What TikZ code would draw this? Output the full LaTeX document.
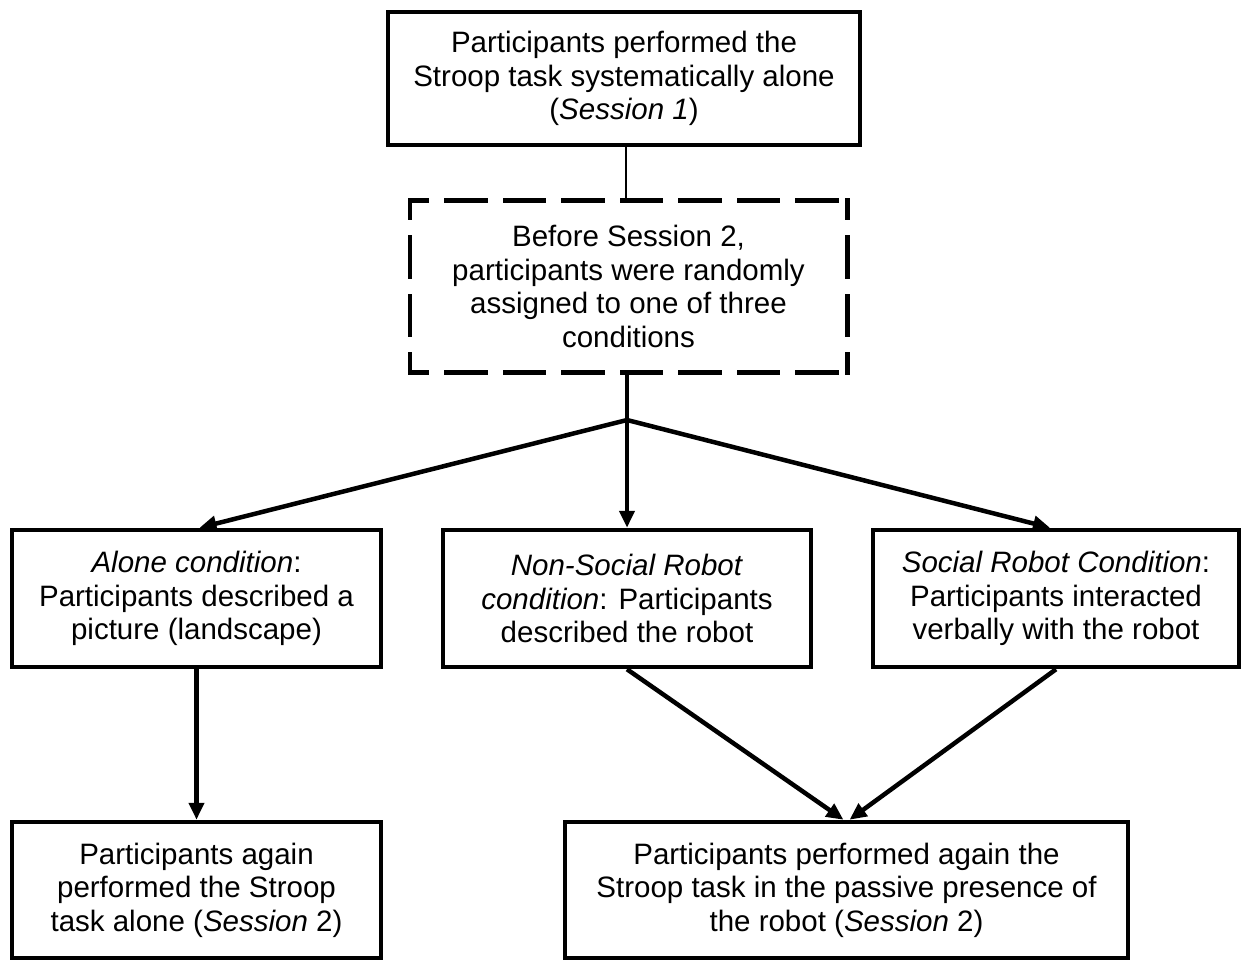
\documentclass[tikz,border=0pt]{standalone}
\usepackage{fontspec}
\setmainfont{Liberation Sans}
\usetikzlibrary{arrows.meta}
\begin{document}
\begin{tikzpicture}[x=1pt,y=-1pt,
  box/.style={draw, line width=4.5pt, rectangle, inner sep=0pt, align=center,
    font=\fontsize{29.5}{33.5}\selectfont},
  dbox/.style={box, draw=none},
  dside/.style={line width=4.5pt, line cap=rect, dash pattern=on 39pt off 19.5pt, dash phase=22pt},
  conn/.style={line width=4.5pt},
  thinconn/.style={line width=1.6pt},
  arr/.style={line width=4.5pt, -{Triangle[length=17pt,width=15pt]}}]
\useasboundingbox (0,0) rectangle (1242,960);
\node[box, minimum width=472pt, minimum height=133pt] (top) at (624,78.5)
  {Participants performed the\\Stroop task systematically alone\\(\textit{Session 1})};
\node[dbox, minimum width=433pt, minimum height=167pt] (d) at (628.5,286.5)
  {Before Session 2,\\participants were randomly\\assigned to one of three\\conditions};
\draw[dside] (d.north west) -- (d.north east);
\draw[dside] (d.north west) -- (d.south west);
\draw[dside] (d.south west) -- (d.south east);
\draw[dside] (d.north east) -- (d.south east);
\node[box, minimum width=369pt, minimum height=137pt] (L1) at (196.5,598.5)
  {\textit{Alone condition}:\\Participants described a\\picture (landscape)};
\node[box, minimum width=368pt, minimum height=137pt] (M) at (627,598.5)
  {\textit{Non-Social Robot}\\\textit{condition}: Participants\\described the robot};
\node[box, minimum width=366pt, minimum height=137pt] (R) at (1056,598.5)
  {\textit{Social Robot Condition}:\\Participants interacted\\verbally with the robot};
\node[box, minimum width=369pt, minimum height=136pt] (BL) at (196.5,890)
  {Participants again\\performed the Stroop\\task alone (\textit{Session} 2)};
\node[box, minimum width=563pt, minimum height=136pt] (BR) at (846.5,890)
  {Participants performed again the\\Stroop task in the passive presence of\\the robot (\textit{Session} 2)};
\coordinate (J) at (627,420);
\draw[thinconn] ([xshift=2pt]top.south) -- ([xshift=2pt]top.south |- d.north);
\draw[conn] (d.south -| J) -- (J);
\draw[arr] (J) -- ([xshift=3pt]L1.north);
\draw[arr] (J) -- (M.north);
\draw[arr] (J) -- ([xshift=-6pt]R.north);
\draw[arr] (L1.south) -- (BL.north);
\draw[arr] (M.south) -- ([xshift=-3pt]BR.north);
\draw[arr] (R.south) -- ([xshift=3pt]BR.north);
\end{tikzpicture}
\end{document}
